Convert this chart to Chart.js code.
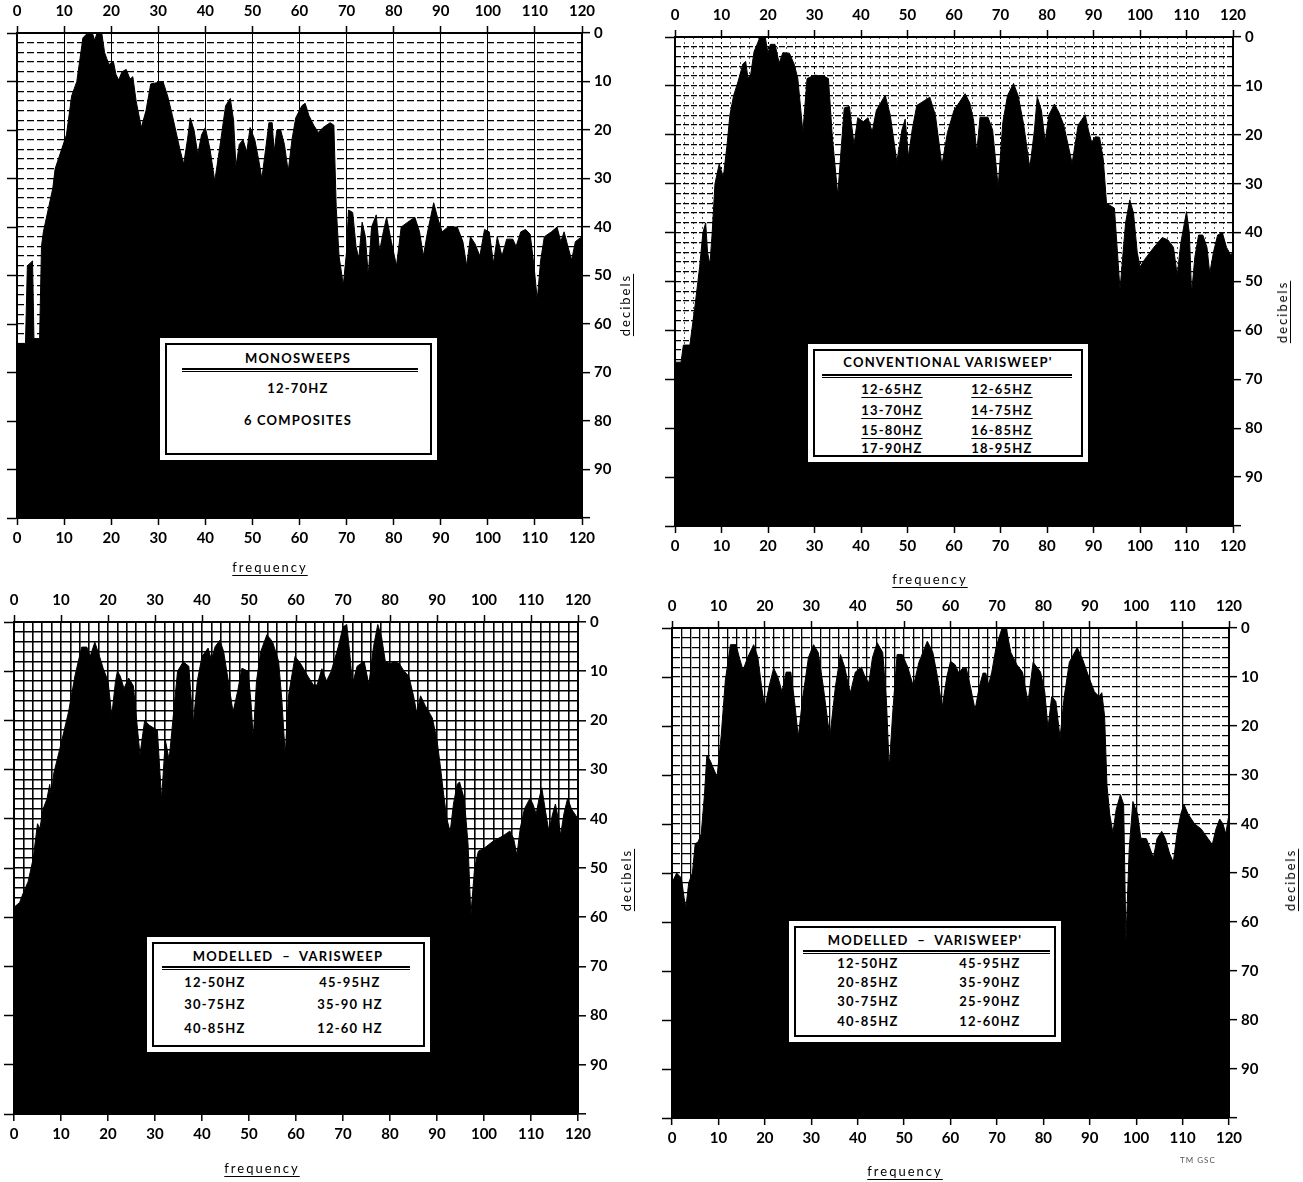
<!DOCTYPE html>
<html>
<head>
<meta charset="utf-8">
<script src="https://cdn.jsdelivr.net/npm/chart.js@4.4.0/dist/chart.umd.min.js"></script>
<style>
  body { margin: 0; background: #fff; }
  #page { position: relative; width: 1303px; height: 1182px; overflow: hidden; font-family: Lato, "DejaVu Sans", sans-serif; }
  canvas { position: absolute; }
  .box { position: absolute; background: #fff; }
  .box .frame { position: absolute; left: 5px; top: 5px; right: 5px; bottom: 5px; border: 2px solid #000; }
  .box .t { position: absolute; transform: translate(-50%, -50%); white-space: nowrap; font-size: 13px; font-weight: bold; letter-spacing: 1.2px; color: #000; }
  .box .u { text-decoration: underline; text-underline-offset: 3px; }
  .box .rule { position: absolute; height: 1px; border-top: 2px solid #000; border-bottom: 1px solid #000; }
  .lab { position: absolute; transform: translate(-50%, -50%); white-space: nowrap; font-size: 13px; letter-spacing: 2px; text-decoration: underline; text-underline-offset: 3px; color: #000; }
  .rot { transform: translate(-50%, -50%) rotate(-90deg); }
  .tm { position: absolute; font-size: 8px; color: #555; letter-spacing: 1px; }
</style>
</head>
<body>
<div id="page">
  <canvas id="c1"></canvas>
  <canvas id="c2"></canvas>
  <canvas id="c3"></canvas>
  <canvas id="c4"></canvas>

  <div class="box" style="left:160px;top:338px;width:277px;height:122px">
    <div class="frame"></div>
    <div class="t" style="left:138px;top:20px">MONOSWEEPS</div>
    <div class="rule" style="left:22px;top:30px;width:236px"></div>
    <div class="t" style="left:138px;top:50px">12-70HZ</div>
    <div class="t" style="left:138px;top:82px">6 COMPOSITES</div>
  </div>

  <div class="box" style="left:808px;top:344px;width:280px;height:118px">
    <div class="frame"></div>
    <div class="t" style="left:140px;top:18px">CONVENTIONAL VARISWEEP'</div>
    <div class="rule" style="left:14px;top:30px;width:250px"></div>
    <div class="t u" style="left:84px;top:45px">12-65HZ</div>
    <div class="t u" style="left:84px;top:66px">13-70HZ</div>
    <div class="t u" style="left:84px;top:86px">15-80HZ</div>
    <div class="t" style="left:84px;top:104px">17-90HZ</div>
    <div class="t u" style="left:194px;top:45px">12-65HZ</div>
    <div class="t u" style="left:194px;top:66px">14-75HZ</div>
    <div class="t u" style="left:194px;top:86px">16-85HZ</div>
    <div class="t" style="left:194px;top:104px">18-95HZ</div>
  </div>

  <div class="box" style="left:147px;top:937px;width:283px;height:115px">
    <div class="frame"></div>
    <div class="t" style="left:141px;top:19px">MODELLED &nbsp;– &nbsp;VARISWEEP</div>
    <div class="rule" style="left:15px;top:29px;width:248px"></div>
    <div class="t" style="left:68px;top:45px">12-50HZ</div>
    <div class="t" style="left:68px;top:67px">30-75HZ</div>
    <div class="t" style="left:68px;top:91px">40-85HZ</div>
    <div class="t" style="left:203px;top:45px">45-95HZ</div>
    <div class="t" style="left:203px;top:67px">35-90 HZ</div>
    <div class="t" style="left:203px;top:91px">12-60 HZ</div>
  </div>

  <div class="box" style="left:789px;top:921px;width:272px;height:121px">
    <div class="frame"></div>
    <div class="t" style="left:136px;top:19px">MODELLED &nbsp;– &nbsp;VARISWEEP'</div>
    <div class="rule" style="left:14px;top:29px;width:247px"></div>
    <div class="t" style="left:79px;top:42px">12-50HZ</div>
    <div class="t" style="left:79px;top:61px">20-85HZ</div>
    <div class="t" style="left:79px;top:80px">30-75HZ</div>
    <div class="t" style="left:79px;top:100px">40-85HZ</div>
    <div class="t" style="left:201px;top:42px">45-95HZ</div>
    <div class="t" style="left:201px;top:61px">35-90HZ</div>
    <div class="t" style="left:201px;top:80px">25-90HZ</div>
    <div class="t" style="left:201px;top:100px">12-60HZ</div>
  </div>

  <div class="lab" style="left:270px;top:567px">frequency</div>
  <div class="lab rot" style="left:625px;top:305px">decibels</div>
  <div class="lab" style="left:930px;top:579px">frequency</div>
  <div class="lab rot" style="left:1282px;top:312px">decibels</div>
  <div class="lab" style="left:262px;top:1168px">frequency</div>
  <div class="lab rot" style="left:626px;top:880px">decibels</div>
  <div class="lab" style="left:905px;top:1171px">frequency</div>
  <div class="lab rot" style="left:1290px;top:880px">decibels</div>
  <div class="tm" style="left:1180px;top:1155px">TM GSC</div>
</div>

<script>
const hzTicks = [0, 10, 20, 30, 40, 50, 60, 70, 80, 90, 100, 110, 120]
const dbTicks = [0, 10, 20, 30, 40, 50, 60, 70, 80, 90]

// monosweeps 12-70 Hz
const freqMono = [0, 1.8, 2.2, 3.3, 3.6, 4.8, 5.2, 5.6, 7.6, 8.1, 10.5, 11.6, 12.7, 14, 15, 16, 16.5, 17, 18, 18.6, 19.5, 20.5, 21, 21.6, 22.3, 23.2, 24, 24.6, 25.3, 26.4, 27.4, 28.4, 31, 32, 33, 34.6, 35.4, 36.2, 36.8, 37.6, 38.4, 39.2, 40, 41, 42, 43, 44.3, 45.3, 46, 46.5, 47.2, 48, 48.8, 49.5, 50.5, 51.3, 52, 52.8, 53.5, 54.2, 54.6, 55.2, 56, 56.8, 57.6, 58.4, 59.2, 60.5, 61.2, 62, 63, 64, 65, 66.5, 67.3, 67.8, 68.4, 69.3, 70, 70.4, 71.3, 72, 72.6, 73.3, 74, 74.6, 75.3, 76.3, 77, 77.8, 78.5, 79.5, 80.6, 81.6, 83, 84.5, 85.5, 86.3, 87.2, 88.5, 89.3, 90.3, 91.5, 93.5, 94.7, 95.5, 96.3, 97.3, 98.3, 99.3, 100.3, 101.2, 102, 103, 104, 105.3, 106, 107, 108, 109, 109.8, 110.5, 111.2, 112, 113.5, 114.7, 115.5, 116.2, 117, 117.8, 118.6, 120]
const dbMono = [64, 64, 48, 47, 63, 63, 44, 41, 32, 28, 21, 13, 10, 1, 0, 0, 1.5, 0, 0, 4, 6.5, 6, 8.5, 9.7, 8, 7.5, 9.5, 9, 14, 19.5, 16, 10.5, 10, 13, 17, 24, 27, 22, 17.5, 20, 25, 21, 19.5, 24, 30.5, 24, 15, 13.5, 18, 27.5, 23, 22, 24.5, 19.5, 22, 26, 30, 24, 18.5, 18.5, 24.5, 20, 20, 23, 28.5, 22, 17.5, 15, 14.5, 17, 19, 20.5, 19.5, 18.5, 19, 36, 46, 52, 45, 36.5, 37, 44, 46.5, 39, 42, 50, 40, 37.5, 45, 41, 38, 43, 48, 40, 39, 38, 41, 46, 41, 35, 38, 41, 40, 40, 43, 48, 42, 43.5, 46, 40.5, 41, 47.5, 42, 46, 42.5, 42.5, 44, 41, 40.5, 41.5, 48, 55, 47, 42, 41, 40, 43, 41, 44, 46.8, 43, 42]

// conventional varisweep
const freqConv = [0, 1.3, 1.8, 3.2, 4.3, 5.3, 6, 6.6, 7, 7.5, 8, 8.6, 9.5, 10.4, 11.2, 11.8, 12.6, 13.6, 14.6, 15.2, 15.7, 16.3, 17, 18.3, 19.4, 20, 20.5, 21.5, 22.4, 23.2, 24.6, 25.6, 26.4, 27.5, 28.4, 30, 32, 33, 33.8, 35, 35.8, 36.4, 37.5, 38.5, 39.3, 40.5, 41.5, 42.4, 43.3, 45.2, 46.3, 47.7, 48.8, 49.5, 50.2, 51, 52, 54.8, 56, 57.4, 58.6, 60, 62.4, 63.4, 64.2, 64.9, 65.6, 67.3, 68.3, 69.5, 70.5, 71.5, 72.8, 73.8, 75, 76.3, 77.3, 77.9, 78.8, 79.6, 80.4, 81.6, 82.6, 83.6, 85.4, 86.7, 88.2, 88.9, 89.6, 90.4, 91.3, 92.1, 92.8, 94.5, 95.7, 96.9, 97.8, 98.6, 99.4, 100, 101, 103, 104.8, 106, 107.2, 108, 108.8, 110, 110.6, 111.1, 111.8, 112.6, 113.5, 114.4, 115, 115.8, 116.7, 117.7, 118.6, 119.5, 120]
const dbConv = [66.5, 66.5, 63, 63, 55, 47, 40, 38, 44, 46.6, 40, 30, 26, 28.6, 22, 16, 12, 9, 5.5, 5, 8.5, 7.5, 3, 0, 0, 3.3, 1.5, 1.5, 5.3, 3.2, 3.3, 5.5, 8.4, 19.4, 8.5, 7.8, 8, 8.5, 20, 32.3, 22, 14.5, 14.2, 22, 16.5, 17.3, 16.5, 19.4, 15, 11.9, 16, 25.5, 19, 16.8, 24.5, 19, 14, 12.3, 16, 26.2, 19.5, 15, 11.6, 13.5, 17, 23.5, 16.4, 16.4, 19, 30.6, 17.5, 12, 9.5, 12, 18, 26.8, 19, 12.2, 15, 21.4, 16, 13.7, 15.5, 18, 25.8, 18, 15.9, 19, 21.5, 20.4, 20.5, 25, 34, 35, 51.7, 38, 33.3, 36, 44, 47, 45.5, 43, 41, 41.5, 43, 48.7, 42, 35.7, 40, 52.4, 45, 40.5, 40.5, 43, 48.3, 44, 40.5, 40, 43, 44.6, 44]

// modelled varisweep, 6 sweeps
const freqModA = [0, 1.2, 2, 3, 4.1, 5, 5.5, 6.2, 7, 7.6, 8, 8.4, 9.8, 11.6, 13, 14.4, 15.5, 16.2, 17.2, 18.2, 19, 20, 20.8, 21.6, 22, 22.6, 23.4, 24.4, 25.4, 26.8, 27.8, 28.8, 30.5, 31.4, 32.2, 33, 33.8, 34.8, 36, 37.2, 38.1, 39, 40, 41.3, 42, 42.8, 43.8, 44.6, 45.6, 46.6, 47.6, 48.5, 49.8, 50.4, 50.9, 51.6, 52.5, 53.8, 55, 56.3, 57, 57.7, 58.4, 59.8, 61, 62.5, 63.7, 64.5, 65.5, 66.5, 67.5, 69, 70, 70.8, 71.5, 72, 73, 74.5, 75.5, 76.5, 77.4, 78.2, 79, 80, 81, 82, 83, 84, 85, 85.7, 86.5, 87.5, 89, 90, 90.8, 91.4, 92.1, 92.8, 93.5, 94.3, 94.8, 95.8, 96.6, 97.2, 98, 98.8, 100, 102, 104, 105.5, 106.3, 107, 107.7, 108.6, 109.8, 110.4, 111.1, 111.7, 112.3, 113, 113.8, 114.6, 115.2, 115.8, 116.3, 117, 117.8, 118.6, 120]
const dbModA = [58, 57, 55, 52.8, 48, 41, 42, 38, 36, 33, 36, 31, 25.6, 18.3, 10.8, 5.1, 5.1, 7, 4.1, 7, 9.5, 12, 19, 12, 10, 11, 13.5, 11.4, 13, 27, 20, 21, 22, 36, 24, 28, 20, 10, 8.1, 9, 21, 12, 7, 5.3, 7.7, 5, 3.7, 6, 12, 18.3, 14, 9.4, 10, 16, 23.6, 12, 6, 2.6, 4, 8, 16, 27, 15, 7, 8.5, 11, 12.8, 12.8, 9.5, 12, 10, 5, 1, 0.5, 7, 12.7, 9, 8, 12.7, 5, 0.5, 3, 8, 8.5, 8, 8.5, 10, 11, 15, 18.5, 15, 17, 19.5, 24, 30, 35, 40, 42.7, 37, 33, 32.5, 36, 45, 59.6, 50, 46.6, 46, 44.5, 43.5, 42.5, 44, 47.4, 42, 38, 35.8, 37, 39, 36, 33.7, 38, 42.5, 39, 37, 40, 43.3, 39, 35.8, 38, 40]

// modelled varisweep, 8 sweeps
const freqModB = [0, 1, 2, 2.6, 3, 3.6, 4.4, 5, 5.6, 6.3, 7, 7.5, 8.2, 9.7, 10.6, 11.5, 12.6, 13.8, 14.5, 15.3, 16.3, 17.6, 18.5, 19.3, 20, 20.9, 21.9, 22.8, 23.7, 24.6, 25.6, 26.4, 27.2, 28.2, 29.4, 30.5, 31.5, 32.6, 34, 35.2, 36.3, 37.2, 38.4, 39.5, 40.8, 41.6, 42.4, 43.2, 44.2, 45.4, 46.2, 46.8, 47.5, 48.5, 49.6, 50.8, 52, 53.2, 55, 56.2, 57.2, 58.2, 59.2, 60, 61, 61.8, 62.6, 63.4, 64.3, 65.3, 66.2, 67, 67.6, 68.2, 68.9, 69.8, 71.1, 72, 73, 74.3, 75.5, 76.7, 77.8, 79.4, 80.3, 81, 81.8, 82.7, 83.6, 84.5, 85.6, 87.3, 88.5, 89.8, 91, 92, 92.6, 93.2, 93.7, 94.3, 95, 95.7, 96.6, 97.3, 97.8, 98.5, 99.3, 100.3, 101, 102.2, 103, 103.7, 104.5, 105.5, 106.3, 107.2, 108, 108.8, 109.6, 110.3, 111.2, 112.6, 114, 115.5, 116.4, 117.2, 118, 118.7, 119.3, 120]
const dbModB = [52, 50, 51, 55, 57, 52, 50, 44, 43.7, 42, 34, 26, 27, 30.4, 22, 10.6, 3.4, 3.4, 6, 8.6, 6, 3.4, 6, 12, 16.3, 12, 8.2, 10, 13, 9, 9, 15, 22.2, 14, 6, 3.4, 5, 12, 22.4, 12, 5.4, 8, 13.3, 9, 8, 10, 11.2, 6, 3, 5, 15, 28.6, 18, 5.4, 5.4, 8, 11.9, 7, 2.7, 5, 10, 16.3, 10, 6.8, 7.5, 9.2, 8.2, 8.2, 12, 16.7, 12, 9.2, 9.2, 11.6, 9, 4, 0, 0, 5, 7.5, 9, 15.1, 7, 9, 13, 20.4, 14, 15, 22.4, 14, 7, 4, 6.5, 10, 13, 14, 13.2, 18, 32, 38, 41.8, 37, 34, 36, 63.7, 45, 35.4, 38, 42.9, 43, 45, 46.9, 43, 41.5, 43, 46, 47.8, 42, 38, 36, 38, 40, 41, 43, 44.2, 41, 39, 40, 42, 38]

const panels = [
    { id: 'c1', freq: freqMono, db: dbMono, origin: [0, 0], size: [650, 585], pad: [17, 33, 68, 67],
      vStep: 10, vColor: () => '#000', vWidth: 1, vDash: [], hColor: '#000', hWidth: 1.3, hDash: [7, 3] },
    { id: 'c2', freq: freqConv, db: dbConv, origin: [640, 0], size: [663, 592], pad: [35, 37, 70, 66],
      vStep: 2, vColor: (v) => v % 10 === 0 ? '#000' : '#555', vWidth: 1, vDash: [2, 3], hColor: '#000', hWidth: 1.3, hDash: [6, 2] },
    { id: 'c3', freq: freqModA, db: dbModA, origin: [0, 585], size: [650, 597], pad: [14, 37, 72, 68],
      vStep: 2, vColor: () => '#000', vWidth: 1.6, vDash: [], hColor: '#000', hWidth: 1.6, hDash: [] },
    { id: 'c4', freq: freqModB, db: dbModB, origin: [640, 585], size: [663, 597], pad: [32, 43, 74, 64],
      vStep: 2, vColor: (v) => v <= 92 || v % 10 === 0 ? '#000' : 'rgba(0,0,0,0)', vWidth: 1.3, vDash: [], hColor: '#000', hWidth: 1.3, hDash: [8, 2] }
]

const tickFont = { family: 'Lato', size: 15, weight: 'bold' }
const onTen = (ctx) => ctx.tick && ctx.tick.value % 10 === 0

function makeChart(p) {
    const canvas = document.getElementById(p.id)
    canvas.width = p.size[0]
    canvas.height = p.size[1]
    canvas.style.left = p.origin[0] + 'px'
    canvas.style.top = p.origin[1] + 'px'
    canvas.style.width = p.size[0] + 'px'
    canvas.style.height = p.size[1] + 'px'
    const [padL, padT, padR, padB] = p.pad

    return new Chart(canvas.getContext('2d'), {
        type: 'line',
        data: {
            datasets: [{
                data: p.freq.map((f, i) => ({ x: f, y: p.db[i] })),
                xAxisID: 'x',
                yAxisID: 'y',
                borderColor: '#000',
                borderWidth: 1,
                backgroundColor: '#000',
                fill: { value: 100 },
                pointRadius: 0,
                tension: 0
            }]
        },
        options: {
            responsive: false,
            animation: false,
            layout: { padding: 0 },
            plugins: { legend: { display: false }, tooltip: { enabled: false } },
            scales: {
                x: {
                    type: 'linear', axis: 'x', position: 'bottom', min: 0, max: 120,
                    ticks: { stepSize: p.vStep, autoSkip: false, maxRotation: 0, color: '#000', font: tickFont, padding: 4,
                        callback: (v) => hzTicks.includes(v) ? String(v) : '' },
                    grid: { color: (ctx) => ctx.tick ? p.vColor(ctx.tick.value) : '#000', lineWidth: p.vWidth,
                        drawTicks: true, tickLength: 7, tickWidth: 1.5,
                        tickColor: (ctx) => onTen(ctx) ? '#000' : 'rgba(0,0,0,0)' },
                    border: { display: true, color: '#000', width: 2, dash: p.vDash },
                    afterFit: (s) => { s.height = padB }
                },
                x2: {
                    type: 'linear', axis: 'x', position: 'top', min: 0, max: 120,
                    ticks: { stepSize: 10, autoSkip: false, maxRotation: 0, color: '#000', font: tickFont, padding: 6 },
                    grid: { drawOnChartArea: false, drawTicks: true, tickLength: 7, tickWidth: 1.5, tickColor: '#000' },
                    border: { display: true, color: '#000', width: 2 },
                    afterFit: (s) => { s.height = padT }
                },
                y: {
                    type: 'linear', axis: 'y', position: 'right', min: 0, max: 100, reverse: true,
                    ticks: { stepSize: 2, autoSkip: false, color: '#000', font: tickFont, padding: 4,
                        callback: (v) => dbTicks.includes(v) ? String(v) : '' },
                    grid: { color: p.hColor, lineWidth: p.hWidth, drawTicks: true, tickLength: 8, tickWidth: 1.5,
                        tickColor: (ctx) => onTen(ctx) ? '#000' : 'rgba(0,0,0,0)' },
                    border: { display: true, color: '#000', width: 2, dash: p.hDash },
                    afterFit: (s) => { s.width = padR }
                },
                yl: {
                    type: 'linear', axis: 'y', position: 'left', min: 0, max: 100, reverse: true,
                    ticks: { display: false, stepSize: 10 },
                    grid: { drawOnChartArea: false, drawTicks: true, tickLength: 10, tickWidth: 1.5, tickColor: '#000' },
                    border: { display: true, color: '#000', width: 2 },
                    afterFit: (s) => { s.width = padL }
                }
            }
        }
    })
}

const charts = panels.map(makeChart)
</script>
</body>
</html>
